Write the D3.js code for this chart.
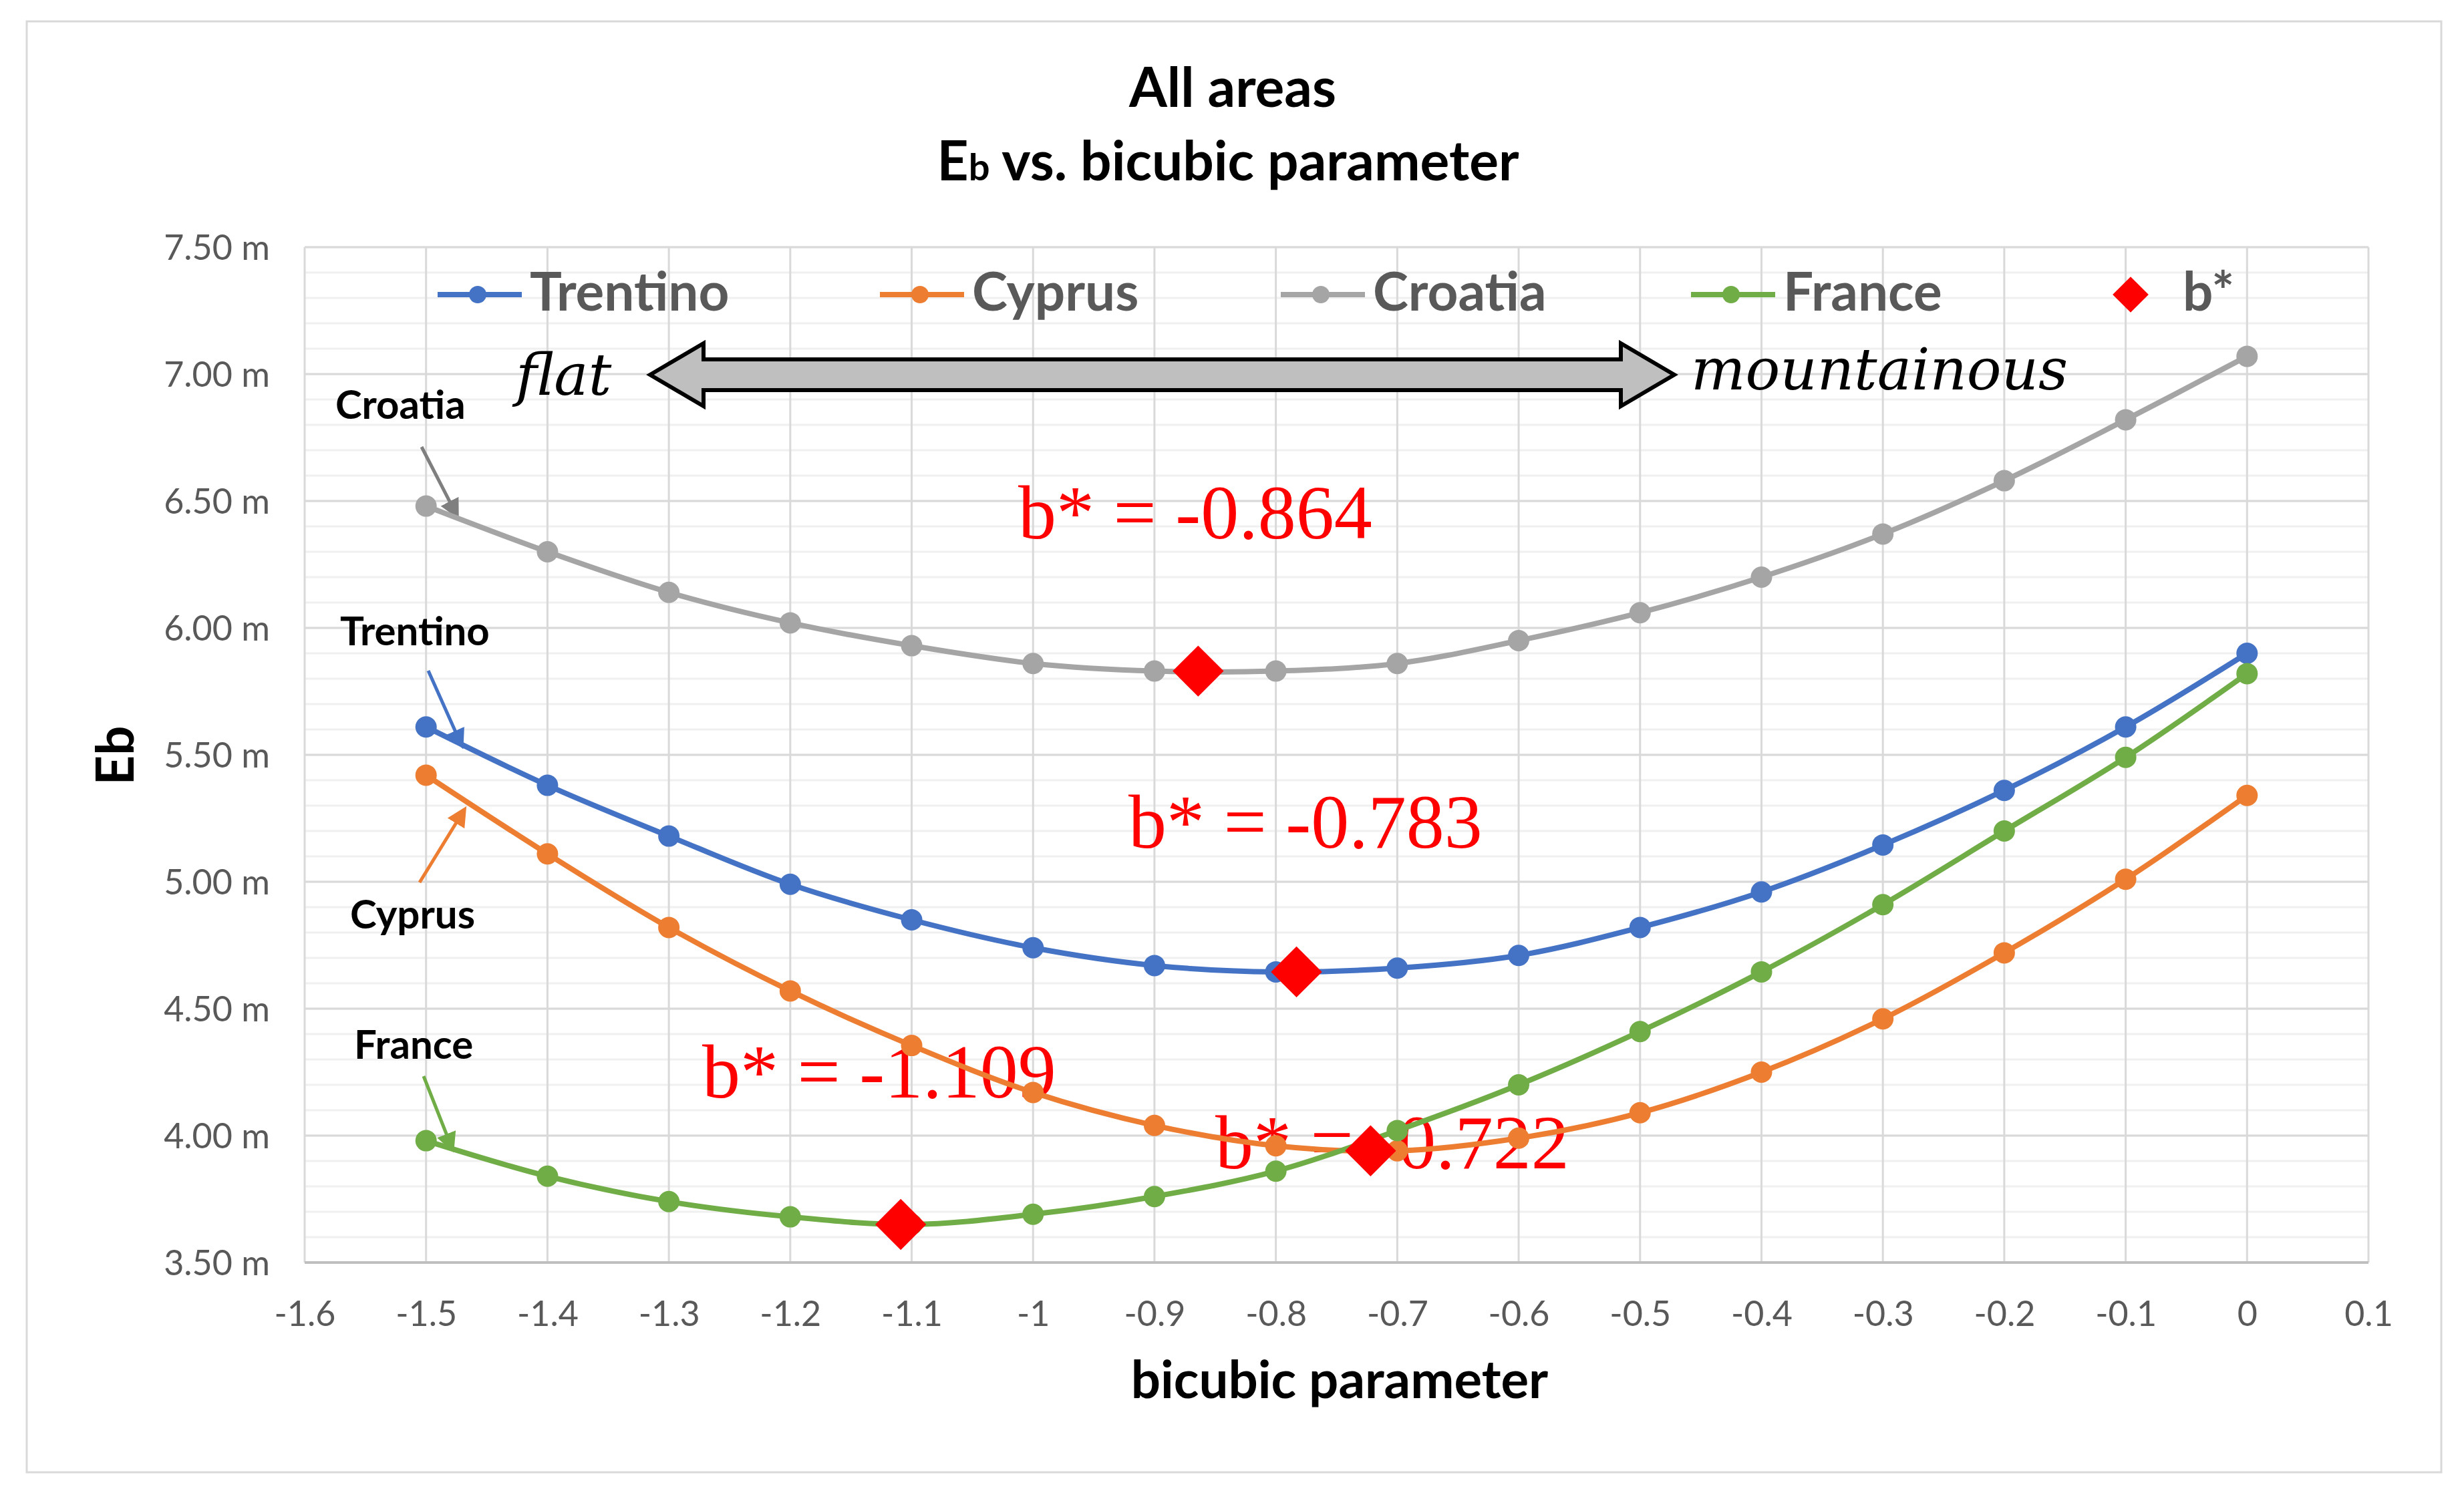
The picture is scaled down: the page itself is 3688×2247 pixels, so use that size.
<!DOCTYPE html>
<html>
<head>
<meta charset="utf-8">
<script src="https://cdn.jsdelivr.net/npm/d3@7"></script>
<style>
body { margin: 0; background: #fff; }
</style>
</head>
<body>
<script>
// data
var bValues = [-1.5, -1.4, -1.3, -1.2, -1.1, -1.0, -0.9, -0.8, -0.7, -0.6, -0.5, -0.4, -0.3, -0.2, -0.1, 0];
var trentino = [5.61, 5.38, 5.18, 4.99, 4.85, 4.74, 4.67, 4.645, 4.66, 4.71, 4.82, 4.96, 5.145, 5.36, 5.61, 5.90];
var cyprus   = [5.42, 5.11, 4.82, 4.57, 4.355, 4.17, 4.04, 3.96, 3.94, 3.99, 4.09, 4.25, 4.46, 4.72, 5.01, 5.34];
var croatia  = [6.48, 6.30, 6.14, 6.02, 5.93, 5.86, 5.83, 5.83, 5.86, 5.95, 6.06, 6.20, 6.37, 6.58, 6.82, 7.07];
var france   = [3.98, 3.84, 3.74, 3.68, 3.65, 3.69, 3.76, 3.86, 4.02, 4.20, 4.41, 4.645, 4.91, 5.20, 5.49, 5.82];

var seriesNames = ["Trentino", "Cyprus", "Croatia", "France"];
var seriesColors = ["#4472c4", "#ed7d31", "#a5a5a5", "#70ad47"];

var bStarX = [-0.864, -0.783, -1.109, -0.722];
var bStarY = [5.83, 4.645, 3.65, 3.94];
var bStarLabels = ["b* = -0.864", "b* = -0.783", "b* = -1.109", "b* = -0.722"];

var xTicks = [-1.6, -1.5, -1.4, -1.3, -1.2, -1.1, -1, -0.9, -0.8, -0.7, -0.6, -0.5, -0.4, -0.3, -0.2, -0.1, 0, 0.1];
var yTicks = [3.5, 4.0, 4.5, 5.0, 5.5, 6.0, 6.5, 7.0, 7.5];

//Width and height
var w = 3688;
var h = 2247;
var plotLeft = 456, plotRight = 3545, plotTop = 370, plotBottom = 1890;
var sansFont = "Lato, 'Open Sans', sans-serif";
var serifFont = "'Liberation Serif', 'Times New Roman', serif";

var svg = d3.select("body")
            .append("svg")
            .attr("width", w)
            .attr("height", h);

svg.append("rect")
  .attr("width", w).attr("height", h).attr("fill", "#fff");

// outer chart border
svg.append("rect")
  .attr("x", 40).attr("y", 32)
  .attr("width", 3614).attr("height", 2172)
  .attr("fill", "none")
  .attr("stroke", "#d9d9d9")
  .attr("stroke-width", 3);

var x = d3.scaleLinear().domain([-1.6, 0.1]).range([plotLeft, plotRight]);
var y = d3.scaleLinear().domain([3.5, 7.5]).range([plotBottom, plotTop]);

// minor horizontal grid (0.1 m)
svg.append("g").selectAll("line")
  .data(y.ticks(40))
  .enter()
  .append("line")
  .attr("x1", plotLeft).attr("x2", plotRight)
  .attr("y1", function(d) { return y(d); })
  .attr("y2", function(d) { return y(d); })
  .attr("stroke", "#f0f0f0")
  .attr("stroke-width", 3);

// vertical grid
svg.append("g").selectAll("line")
  .data(xTicks)
  .enter()
  .append("line")
  .attr("x1", function(d) { return x(d); })
  .attr("x2", function(d) { return x(d); })
  .attr("y1", plotTop).attr("y2", plotBottom)
  .attr("stroke", "#d9d9d9")
  .attr("stroke-width", 3);

// major horizontal grid
svg.append("g").selectAll("line")
  .data(yTicks)
  .enter()
  .append("line")
  .attr("x1", plotLeft).attr("x2", plotRight)
  .attr("y1", function(d) { return y(d); })
  .attr("y2", function(d) { return y(d); })
  .attr("stroke", function(d) { return d === 3.5 ? "#bfbfbf" : "#d9d9d9"; })
  .attr("stroke-width", function(d) { return d === 3.5 ? 4 : 3; });

// axes
var xAxis = svg.append("g")
  .attr("transform", "translate(0," + plotBottom + ")")
  .call(d3.axisBottom(x).tickValues(xTicks).tickSize(0).tickPadding(58)
    .tickFormat(function(d) { return String(+d.toFixed(1)); }));
var yAxis = svg.append("g")
  .attr("transform", "translate(" + plotLeft + ",0)")
  .call(d3.axisLeft(y).tickValues(yTicks).tickSize(0).tickPadding(52)
    .tickFormat(function(d) { return d.toFixed(2) + " m"; }));
[xAxis, yAxis].forEach(function(a) {
  a.select(".domain").remove();
  a.selectAll("text")
    .attr("font-family", sansFont)
    .attr("font-size", "52px")
    .attr("fill", "#595959");
});
yAxis.selectAll("text").attr("dy", "0.36em");

// titles
svg.append("text")
  .text("All areas")
  .attr("x", 1845).attr("y", 160)
  .attr("text-anchor", "middle")
  .attr("font-family", sansFont).attr("font-weight", "bold")
  .attr("font-size", "82px").attr("fill", "#000");
var t2 = svg.append("text")
  .attr("x", 1838).attr("y", 270)
  .attr("text-anchor", "middle")
  .attr("font-family", sansFont).attr("font-weight", "bold")
  .attr("font-size", "82px").attr("fill", "#000");
t2.append("tspan").text("E");
t2.append("tspan").text("b").attr("font-size", "56px");
t2.append("tspan").text(" vs. bicubic parameter");

svg.append("text")
  .text("bicubic parameter")
  .attr("x", 2005).attr("y", 2093)
  .attr("text-anchor", "middle")
  .attr("font-family", sansFont).attr("font-weight", "bold")
  .attr("font-size", "78px").attr("fill", "#000");

svg.append("text")
  .text("Eb")
  .attr("transform", "translate(200,1131) rotate(-90)")
  .attr("text-anchor", "middle")
  .attr("font-family", sansFont).attr("font-weight", "bold")
  .attr("font-size", "78px").attr("fill", "#000");

// b* annotations (under the series)
var annotPos = [[1524, 806], [1689, 1269], [1051, 1643], [1819, 1749]];
svg.append("g").selectAll("text")
  .data(bStarLabels)
  .enter()
  .append("text")
  .text(function(d) { return d; })
  .attr("x", function(d, i) { return annotPos[i][0]; })
  .attr("y", function(d, i) { return annotPos[i][1]; })
  .attr("font-family", serifFont)
  .attr("font-size", "114px")
  .attr("fill", "#ff0000");

// flat <-> mountainous arrow
var ax1 = 973, ax2 = 2506, acy = 561, bodyH = 23, headH = 47, headL = 80;
svg.append("path")
  .attr("d", "M" + ax1 + "," + acy +
    "L" + (ax1 + headL) + "," + (acy - headH) +
    "L" + (ax1 + headL) + "," + (acy - bodyH) +
    "L" + (ax2 - headL) + "," + (acy - bodyH) +
    "L" + (ax2 - headL) + "," + (acy - headH) +
    "L" + ax2 + "," + acy +
    "L" + (ax2 - headL) + "," + (acy + headH) +
    "L" + (ax2 - headL) + "," + (acy + bodyH) +
    "L" + (ax1 + headL) + "," + (acy + bodyH) +
    "L" + (ax1 + headL) + "," + (acy + headH) + "Z")
  .attr("fill", "#bfbfbf")
  .attr("stroke", "#000")
  .attr("stroke-width", 6)
  .attr("stroke-linejoin", "miter");

svg.append("text").text("flat")
  .attr("x", 772).attr("y", 591)
  .attr("font-family", "'DejaVu Serif', serif").attr("font-style", "italic")
  .attr("font-size", "86px").attr("fill", "#000");
svg.append("text").text("mountainous")
  .attr("x", 2531).attr("y", 583)
  .attr("font-family", "'DejaVu Serif', serif").attr("font-style", "italic")
  .attr("font-size", "86px").attr("fill", "#000");

// callout labels with arrows
var callouts = [
  { name: "Croatia",  color: "#7f7f7f", tx: 502, ty: 627,  a: [631, 669, 684, 772] },
  { name: "Trentino", color: "#4472c4", tx: 509, ty: 966,  a: [641, 1004, 691, 1116] },
  { name: "Cyprus",   color: "#ed7d31", tx: 524, ty: 1390, a: [628, 1321, 695, 1212] },
  { name: "France",   color: "#70ad47", tx: 530, ty: 1585, a: [634, 1611, 677, 1720] }
];
var defs = svg.append("svg:defs");
callouts.forEach(function(c, i) {
  defs.append("svg:marker")
    .attr("id", "arr" + i)
    .attr("viewBox", "0 -5 10 10")
    .attr("refX", 8)
    .attr("markerWidth", 30)
    .attr("markerHeight", 30)
    .attr("markerUnits", "userSpaceOnUse")
    .attr("orient", "auto")
  .append("svg:path")
    .attr("d", "M0,-5L10,0L0,5Z")
    .attr("fill", c.color);
});
svg.append("g").selectAll("line")
  .data(callouts)
  .enter()
  .append("line")
  .attr("x1", function(d) { return d.a[0]; })
  .attr("y1", function(d) { return d.a[1]; })
  .attr("x2", function(d) { return d.a[2]; })
  .attr("y2", function(d) { return d.a[3]; })
  .attr("stroke", function(d) { return d.color; })
  .attr("stroke-width", 5)
  .style("marker-end", function(d, i) { return "url(#arr" + i + ")"; });
svg.append("g").selectAll("text")
  .data(callouts)
  .enter()
  .append("text")
  .text(function(d) { return d.name; })
  .attr("x", function(d) { return d.tx; })
  .attr("y", function(d) { return d.ty; })
  .attr("font-family", sansFont).attr("font-weight", "bold")
  .attr("font-size", "60px").attr("fill", "#000");

// series
var series = [trentino, cyprus, croatia, france].map(function(vals, i) {
  return {
    name: seriesNames[i],
    color: seriesColors[i],
    points: vals.map(function(v, j) { return { b: bValues[j], e: v }; })
  };
});
var line = d3.line()
  .x(function(d) { return x(d.b); })
  .y(function(d) { return y(d.e); })
  .curve(d3.curveCatmullRom.alpha(0.5));

var sg = svg.append("g").selectAll("g")
  .data(series)
  .enter()
  .append("g");
sg.append("path")
  .attr("d", function(d) { return line(d.points); })
  .attr("fill", "none")
  .attr("stroke", function(d) { return d.color; })
  .attr("stroke-width", 8);
sg.selectAll("circle")
  .data(function(d) { return d.points.map(function(p) { return { p: p, color: d.color }; }); })
  .enter()
  .append("circle")
  .attr("cx", function(d) { return x(d.p.b); })
  .attr("cy", function(d) { return y(d.p.e); })
  .attr("r", 16)
  .attr("fill", function(d) { return d.color; });

// b* diamonds
var diamond = d3.symbol().type(d3.symbolSquare).size(54 * 54);
svg.append("g").selectAll("path")
  .data(bStarX)
  .enter()
  .append("path")
  .attr("d", diamond)
  .attr("transform", function(d, i) {
    return "translate(" + x(d) + "," + y(bStarY[i]) + ") rotate(45)";
  })
  .attr("fill", "#ff0000");

// legend
var legendX = [655, 1317, 1917, 2531];
var legendY = 441;
var lg = svg.append("g").selectAll("g")
  .data(series)
  .enter()
  .append("g")
  .attr("transform", function(d, i) { return "translate(" + legendX[i] + "," + legendY + ")"; });
lg.append("line")
  .attr("x1", 0).attr("x2", 126)
  .attr("stroke", function(d) { return d.color; })
  .attr("stroke-width", 8);
lg.append("circle")
  .attr("cx", 60).attr("r", 13)
  .attr("fill", function(d) { return d.color; });
lg.append("text")
  .text(function(d) { return d.name; })
  .attr("x", 138).attr("y", 24)
  .attr("font-family", sansFont).attr("font-weight", "bold")
  .attr("font-size", "80px").attr("fill", "#595959");

svg.append("path")
  .attr("d", d3.symbol().type(d3.symbolSquare).size(38 * 38))
  .attr("transform", "translate(3189," + legendY + ") rotate(45)")
  .attr("fill", "#ff0000");
svg.append("text")
  .text("b*")
  .attr("x", 3267).attr("y", legendY + 24)
  .attr("font-family", sansFont).attr("font-weight", "bold")
  .attr("font-size", "80px").attr("fill", "#595959");
</script>
</body>
</html>
